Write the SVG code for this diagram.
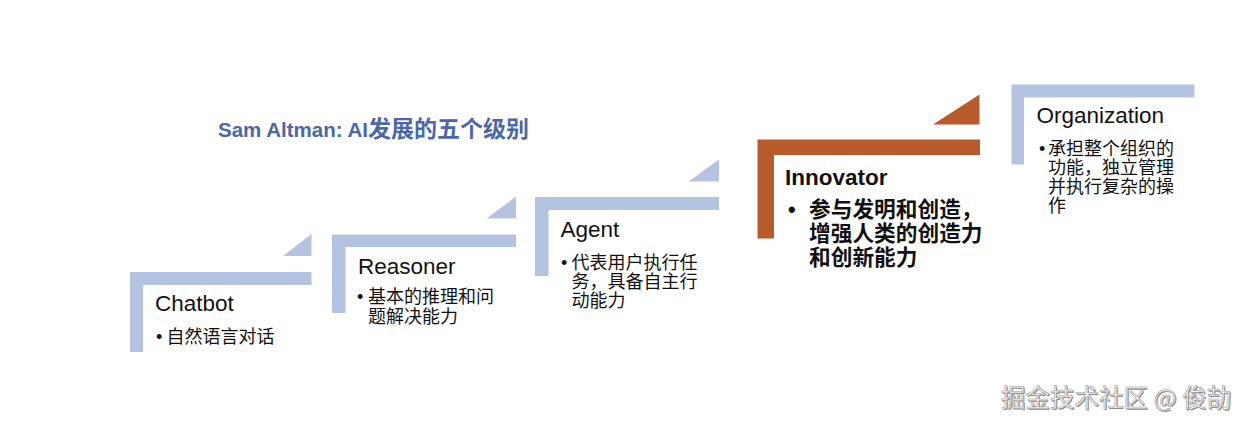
<svg xmlns="http://www.w3.org/2000/svg" width="1251" height="428" viewBox="0 0 1251 428">
  <style>
    .blue { fill: #B3C3E2; }
    .orange { fill: #B85B2B; }
    .ttl { font-family: "Liberation Sans", Arial, "Noto Sans CJK SC", sans-serif; font-size: 22.5px; fill: #111; }
    .body { font-family: "Liberation Sans", "Noto Sans CJK SC", sans-serif; font-size: 18px; fill: #111; }
    .bodyb { font-family: "Liberation Sans", "Noto Sans CJK SC", sans-serif; font-size: 21.7px; font-weight: bold; fill: #111; }
    .main { font-family: "Liberation Sans", "Noto Sans CJK SC", sans-serif; font-size: 20.5px; font-weight: bold; fill: #4A68A8; }
    .wm { font-family: "Noto Sans CJK SC", "Liberation Sans", sans-serif; font-size: 24.5px; }
  </style>
  <rect width="1251" height="428" fill="#ffffff"/>

  <text class="main" x="218" y="137">Sam Altman: AI<tspan font-size="23px">发展的五个级别</tspan></text>

  <g id="connectors">
    <polygon class="blue" points="283,256 311.5,256 311.5,234"/>
    <polygon class="blue" points="486.5,218.5 516,218.5 516,196.5"/>
    <polygon class="blue" points="688.5,181.5 719,181.5 719,159.5"/>
    <polygon class="orange" points="933,124.5 979.5,124.5 979.5,94.5"/>
  </g>

  <g id="chatbot">
    <path class="blue" d="M130,272 H311.5 V285 H143 V352 H130 Z"/>
    <text class="ttl" x="155" y="311">Chatbot</text>
    <text class="body" x="156" y="343">•</text>
    <text class="body" x="166.5" y="343">自然语言对话</text>
  </g>

  <g id="reasoner">
    <path class="blue" d="M332,234.5 H516 V247 H345.5 V313 H332 Z"/>
    <text class="ttl" x="358" y="274">Reasoner</text>
    <text class="body" x="357" y="303">•</text>
    <text class="body" x="368" y="303">基本的推理和问</text>
    <text class="body" x="368" y="323">题解决能力</text>
  </g>

  <g id="agent">
    <path class="blue" d="M535,197 H719 V210 H548.5 V276 H535 Z"/>
    <text class="ttl" x="560.5" y="236.5">Agent</text>
    <text class="body" x="561" y="269">•</text>
    <text class="body" x="571.5" y="269">代表用户执行任</text>
    <text class="body" x="571.5" y="288">务，具备自主行</text>
    <text class="body" x="571.5" y="307">动能力</text>
  </g>

  <g id="innovator">
    <path class="orange" d="M757.5,139.5 H980 V155 H774 V238.5 H757.5 Z"/>
    <text class="ttl" x="785" y="185" font-weight="bold">Innovator</text>
    <text class="bodyb" x="788" y="217">•</text>
    <text class="bodyb" x="809" y="217">参与发明和创造，</text>
    <text class="bodyb" x="809" y="241">增强人类的创造力</text>
    <text class="bodyb" x="809" y="265">和创新能力</text>
  </g>

  <g id="organization">
    <path class="blue" d="M1011.5,84.5 H1194.5 V97.5 H1024 V164.5 H1011.5 Z"/>
    <text class="ttl" x="1036.5" y="123">Organization</text>
    <text class="body" x="1039" y="155">•</text>
    <text class="body" x="1048" y="155">承担整个组织的</text>
    <text class="body" x="1048" y="174">功能，独立管理</text>
    <text class="body" x="1048" y="193">并执行复杂的操</text>
    <text class="body" x="1048" y="212">作</text>
  </g>

  <g id="watermark">
    <text class="wm" x="1002" y="408" fill="#8a8a8a">掘金技术社区 @ 俊劼</text>
    <text class="wm" x="1001" y="407" fill="#f4f4f4" stroke="#9a9a9a" stroke-width="0.6">掘金技术社区 @ 俊劼</text>
  </g>
</svg>
